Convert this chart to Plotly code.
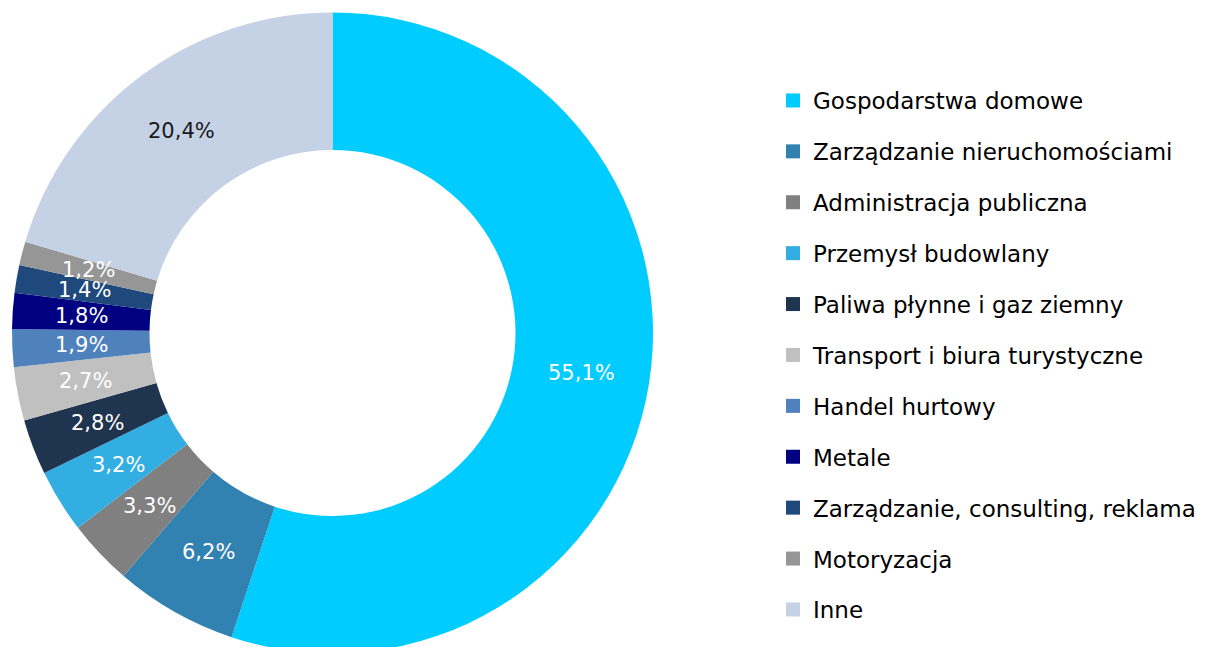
import math
import plotly.graph_objects as go

W, H = 1210, 647
OFF = 8  # page body margin offset applied by the browser

categories = [
    "Gospodarstwa domowe",
    "Zarządzanie nieruchomościami",
    "Administracja publiczna",
    "Przemysł budowlany",
    "Paliwa płynne i gaz ziemny",
    "Transport i biura turystyczne",
    "Handel hurtowy",
    "Metale",
    "Zarządzanie, consulting, reklama",
    "Motoryzacja",
    "Inne",
]
values = [55.1, 6.2, 3.3, 3.2, 2.8, 2.7, 1.9, 1.8, 1.4, 1.2, 20.4]
colors = [
    "#00CCFF", "#3182B0", "#808080", "#33AEE2", "#1F344F", "#C0C0C0",
    "#4F81BD", "#000080", "#1F497D", "#969696", "#C5D1E5",
]
label_colors = ["white"] * 10 + ["#1a1a1a"]

FONT = "DejaVu Sans"
hole = 0.571

# pie geometry (pixels, figure coordinates)
r = 320.5
cx, cy = 332.5 - OFF, 333.0 - OFF
dom_x = [max(0.0, (cx - r) / W), min(1.0, (cx + r) / W)]
dom_y = [max(0.0, 1 - (cy + r) / H), min(1.0, 1 - (cy - r) / H)]

fig = go.Figure()
fig.add_trace(go.Pie(
    labels=categories, values=values, sort=False, direction="clockwise",
    rotation=0, hole=hole, textinfo="none", showlegend=False,
    marker=dict(colors=colors, line=dict(width=0)),
    domain=dict(x=dom_x, y=dom_y), hoverinfo="label+percent",
))

# legend via dummy traces to control spacing
for i, (c, col) in enumerate(zip(categories, colors)):
    fig.add_trace(go.Scatter(
        x=[None], y=[None], mode="markers", name=c, legendgroup=str(i),
        marker=dict(symbol="square", size=14, color=col), showlegend=True,
    ))

# percentage labels at mid-ring radius
total = sum(values)
cum = 0.0
rm = r * (1 + hole) / 2
for v, lc in zip(values, label_colors):
    mid = (cum + v / 2) / total * 2 * math.pi
    cum += v
    px = cx + rm * math.sin(mid)
    py = cy - rm * math.cos(mid)
    fig.add_annotation(
        x=px / W, y=1 - py / H, xref="paper", yref="paper",
        xanchor="center", yanchor="middle",
        text=f"{v:.1f}%".replace(".", ","), showarrow=False,
        font=dict(family=FONT, size=21, color=lc),
    )

fig.update_layout(
    width=W, height=H, margin=dict(l=0, r=0, t=0, b=0),
    paper_bgcolor="white", plot_bgcolor="white",
    xaxis=dict(visible=False), yaxis=dict(visible=False),
    legend=dict(
        x=765 / W, y=1 - 71 / H, xanchor="left", yanchor="top",
        font=dict(family=FONT, size=23, color="#000000"),
        tracegroupgap=18, traceorder="grouped", itemclick=False,
    ),
    showlegend=True,
)
fig.write_html("out.html")
